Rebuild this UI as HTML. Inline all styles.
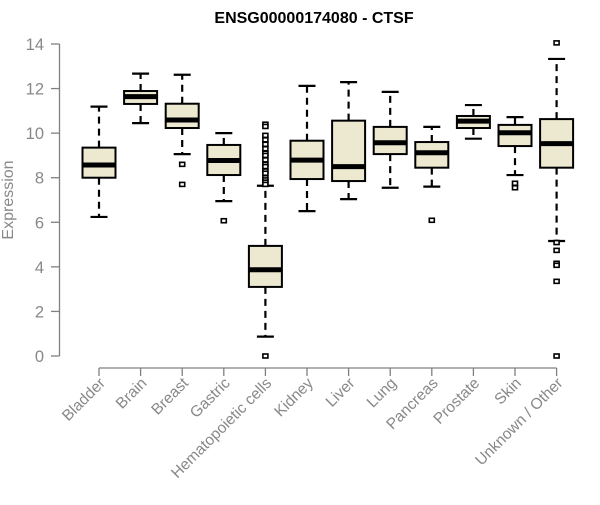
<!DOCTYPE html>
<html><head><meta charset="utf-8"><style>
body{margin:0;background:#fff}
svg text{font-family:"Liberation Sans",Arial,sans-serif}
</style></head><body>
<svg id="chart" width="600" height="500" xmlns="http://www.w3.org/2000/svg">
<text x="314" y="23" text-anchor="middle" font-size="16" font-weight="bold">ENSG00000174080 - CTSF</text>
<text transform="translate(13,200) rotate(-90)" text-anchor="middle" font-size="16" fill="#888">Expression</text>
<g id="axes"></g><g id="marks"></g>
</svg>
<script>
const categories=["Bladder","Brain","Breast","Gastric","Hematopoietic cells","Kidney","Liver","Lung","Pancreas","Prostate","Skin","Unknown / Other"];
const lowWhisker=[6.24,10.45,9.06,6.95,0.87,6.5,7.04,7.55,7.6,9.75,8.12,5.16];
const q1=[8.0,11.31,10.23,8.12,3.1,7.94,7.85,9.06,8.45,10.23,9.42,8.45];
const medians=[8.57,11.64,10.59,8.77,3.87,8.79,8.5,9.57,9.12,10.54,10.02,9.53];
const q3=[9.35,11.89,11.32,9.47,4.94,9.66,10.56,10.28,9.6,10.77,10.37,10.63];
const highWhisker=[11.19,12.67,12.62,10.0,7.64,12.12,12.29,11.85,10.28,11.26,10.72,13.33];
const outliers=[[],[],[8.6,7.7],[6.07],[10.4,10.3,9.9,9.7,9.5,9.3,9.1,9.0,8.8,8.6,8.5,8.3,8.2,8.0,7.9,7.8,7.7,0],[],[],[],[6.09],[],[7.75,7.55],[14.05,5.09,4.74,4.16,4.07,3.35,0]];
const yTicks=[0,2,4,6,8,10,12,14];
const NS="http://www.w3.org/2000/svg";
const y=v=>356-22.286*v;
const x=i=>99+i*41.6;
function mk(tag,attrs,parent){const e=document.createElementNS(NS,tag);for(const k in attrs)e.setAttribute(k,attrs[k]);parent.appendChild(e);return e;}
const axes=document.getElementById('axes'),marks=document.getElementById('marks');
let l=mk('line',{x1:59.5,y1:y(0),x2:59.5,y2:y(14),stroke:'#808080','stroke-width':1.3},axes);


yTicks.forEach(t=>{
 let tk=mk('line',{x1:51,x2:59.5,y1:y(t),y2:y(t),stroke:'#808080','stroke-width':1.3},axes);
 
 
 let tx=mk('text',{x:44,y:y(t)+6,'text-anchor':'end','font-size':16.5,fill:'#888'},axes);
 tx.textContent=t;
 
 
});
let xl=mk('line',{x1:x(0),x2:x(categories.length-1),y1:368,y2:368,stroke:'#808080','stroke-width':1.3},axes);


categories.forEach((c,i)=>{
 const cx=x(i);
 let tk=mk('line',{x1:cx,x2:cx,y1:368,y2:376,stroke:'#808080','stroke-width':1.3},axes);
 
 
 let tx=mk('text',{'text-anchor':'end','font-size':15.5,fill:'#888',transform:`translate(${cx+7},${384}) rotate(-45)`},axes);
 tx.textContent=c;
 
 
 const g=mk('g',{},marks);
 
 
 mk('line',{x1:cx,x2:cx,y1:y(q3[i]),y2:y(highWhisker[i]),stroke:'#000','stroke-width':2.2,'stroke-dasharray':'7,5'},g);
 mk('line',{x1:cx,x2:cx,y1:y(q1[i]),y2:y(lowWhisker[i]),stroke:'#000','stroke-width':2.2,'stroke-dasharray':'7,5'},g);
 mk('line',{x1:cx-8.5,x2:cx+8.5,y1:y(highWhisker[i]),y2:y(highWhisker[i]),stroke:'#000','stroke-width':2.2},g);
 mk('line',{x1:cx-8.5,x2:cx+8.5,y1:y(lowWhisker[i]),y2:y(lowWhisker[i]),stroke:'#000','stroke-width':2.2},g);
 mk('rect',{x:cx-16.5,y:y(q3[i]),width:33,height:y(q1[i])-y(q3[i]),fill:'#ede8d0',stroke:'#000','stroke-width':2},g);
 mk('line',{x1:cx-16.5,x2:cx+16.5,y1:y(medians[i]),y2:y(medians[i]),stroke:'#000','stroke-width':5},g);
 outliers[i].forEach(v=>{
  let o=mk('rect',{x:cx-2.5,y:y(v)-2,width:5,height:4,fill:'#fff',stroke:'#000','stroke-width':1.6},g);
  
  
 });
});
</script>
</body></html>
